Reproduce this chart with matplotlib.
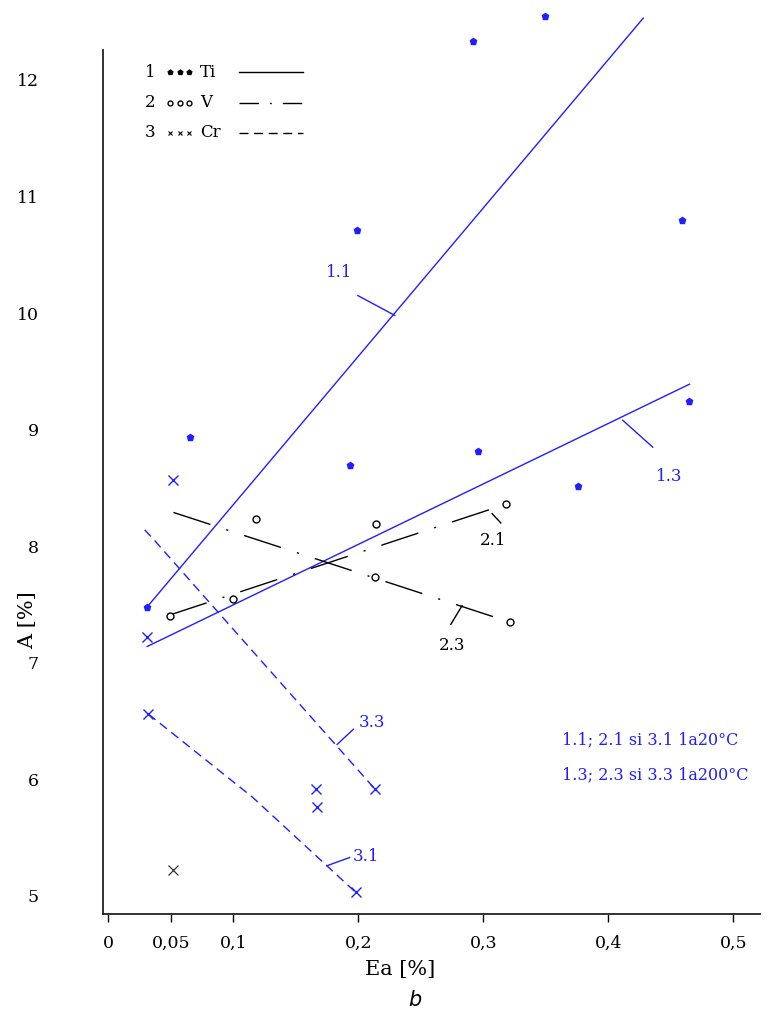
import matplotlib.pyplot as plt
from matplotlib.lines import Line2D

# measured points, A [%] vs Ea [%]
ti_ea = [0.031, 0.065, 0.193, 0.199, 0.292, 0.296, 0.349, 0.376, 0.459, 0.465]
ti_a = [7.48, 8.94, 8.70, 10.71, 12.33, 8.82, 12.55, 8.52, 10.80, 9.25]
v_ea = [0.049, 0.100, 0.118, 0.213, 0.214, 0.318, 0.321]
v_a = [7.40, 7.55, 8.23, 7.74, 8.19, 8.36, 7.35]
cr_ea = [0.031, 0.032, 0.052, 0.166, 0.167, 0.198, 0.213]
cr_a = [7.22, 6.56, 8.57, 5.92, 5.76, 5.03, 5.92]
cr2_ea = [0.052]
cr2_a = [5.22]

# regression lines
fit_11 = ([0.031, 0.428], [7.48, 12.53])
fit_13 = ([0.031, 0.465], [7.14, 9.39])
fit_21 = ([0.049, 0.318], [7.41, 8.36])
fit_23 = ([0.052, 0.321], [8.29, 7.35])
fit_33 = ([0.029, 0.036, 0.213], [8.14, 8.06, 5.92])
fit_31 = ([0.032, 0.115, 0.198], [6.56, 5.85, 5.03])

xticks = [0, 0.05, 0.1, 0.2, 0.3, 0.4, 0.5]
xlabels = ["0", "0,05", "0,1", "0,2", "0,3", "0,4", "0,5"]
yticks = [5, 6, 7, 8, 9, 10, 11, 12]

BLUE = "#1f1fff"
SERIF = "DejaVu Serif"

fig = plt.figure(figsize=(7.8, 10.11), dpi=100)
ax = fig.add_axes([0.132, 0.096, 0.842, 0.8545])

lw = 1.0
ax.plot(*fit_11, color=BLUE, lw=lw, clip_on=False)
ax.plot(*fit_13, color=BLUE, lw=lw, clip_on=False)
ax.plot(*fit_21, color="black", lw=lw, dashes=(28, 12, 1.5, 12), clip_on=False)
ax.plot(*fit_23, color="black", lw=lw, dashes=(28, 12, 1.5, 12), clip_on=False)
ax.plot(*fit_33, color=BLUE, lw=lw, dashes=(6.5, 4), clip_on=False)
ax.plot(*fit_31, color=BLUE, lw=lw, dashes=(6.5, 4), clip_on=False)

ax.plot(ti_ea, ti_a, "p", color=BLUE, ms=4.5, ls="none", clip_on=False)
ax.plot(v_ea, v_a, "o", mfc="white", mec="black", mew=1, ms=5, ls="none", clip_on=False)
ax.plot(cr_ea, cr_a, "x", color=BLUE, ms=7, mew=1, ls="none", clip_on=False)
ax.plot(cr2_ea, cr2_a, "x", color="#333333", ms=7, mew=0.9, ls="none", clip_on=False)

# curve labels with short leader lines
callouts = [
    ("1.1", (0.1996, 0.2292), (10.15, 9.98), (0.185, 10.35), BLUE),
    ("1.3", (0.4116, 0.4356), (9.08, 8.85), (0.449, 8.60), BLUE),
    ("2.1", (0.307, 0.314), (8.28, 8.20), (0.308, 8.05), "black"),
    ("2.3", (0.283, 0.274), (7.49, 7.33), (0.275, 7.15), "black"),
    ("3.3", (0.183, 0.196), (6.30, 6.43), (0.211, 6.49), BLUE),
    ("3.1", (0.175, 0.193), (5.26, 5.33), (0.206, 5.34), BLUE),
]
for txt, lx, ly, pos, col in callouts:
    ax.plot(lx, ly, color=col, lw=1.0, clip_on=False)
    ax.text(pos[0], pos[1], txt, color=col, fontsize=12, family=SERIF,
            ha="center", va="center")

ax.text(0.3628, 6.34, "1.1; 2.1 si 3.1 1a20°C", color=BLUE, fontsize=11.5,
        family=SERIF, va="center")
ax.text(0.3628, 6.04, "1.3; 2.3 si 3.3 1a200°C", color=BLUE, fontsize=11.5,
        family=SERIF, va="center")

# legend block drawn by hand
rows = [
    ("1", "Ti", dict(marker="p", color="black", ms=3.5, ls="none"), dict(ls="-")),
    ("2", "V", dict(marker="o", mfc="white", mec="black", ms=3.5, ls="none"),
     dict(dashes=(14, 8, 1.2, 8))),
    ("3", "Cr", dict(marker="x", color="black", ms=3.5, mew=0.8, ls="none"),
     dict(dashes=(6.5, 4))),
]
row_y = [0.9745, 0.939, 0.9045]
for (num, name, mk, ln), y in zip(rows, row_y):
    ax.text(0.072, y, num, transform=ax.transAxes, fontsize=12, family=SERIF,
            ha="center", va="center")
    ax.add_line(Line2D([0.102, 0.117, 0.131], [y, y, y], transform=ax.transAxes,
                       clip_on=False, **mk))
    ax.text(0.148, y, name, transform=ax.transAxes, fontsize=12, family=SERIF,
            ha="left", va="center")
    ax.add_line(Line2D([0.207, 0.304], [y, y], transform=ax.transAxes,
                       color="black", lw=1.0, clip_on=False, **ln))

ax.set_xlim(-0.0044, 0.5212)
ax.set_ylim(4.846, 12.256)
ax.spines["top"].set_visible(False)
ax.spines["right"].set_visible(False)
for s in ("left", "bottom"):
    ax.spines[s].set_linewidth(1.3)
    ax.spines[s].set_color("#222222")

ax.set_xticks(xticks)
ax.set_xticklabels(xlabels, family=SERIF, fontsize=12.5)
ax.set_yticks(yticks)
ax.set_yticklabels([str(v) for v in yticks], family=SERIF, fontsize=12.5)
ax.tick_params(axis="x", direction="out", length=6, width=1, pad=9)
ax.tick_params(axis="y", length=0, pad=46)

fig.text(400 / 780, 1 - 970 / 1011, "Ea [%]", family=SERIF, fontsize=15,
         ha="center", va="center")
fig.text(28 / 780, 1 - 620 / 1011, "A [%]", family=SERIF, fontsize=15,
         rotation=90, ha="center", va="center")
fig.text(415 / 780, 1 - 1000 / 1011, "b", family="DejaVu Sans", style="italic",
         fontsize=15, ha="center", va="center")

fig.savefig("out.png", dpi=100)
